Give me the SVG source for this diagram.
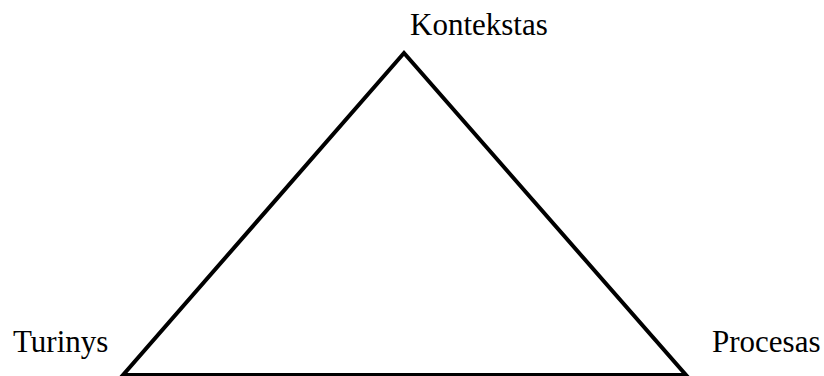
<svg xmlns="http://www.w3.org/2000/svg" width="824" height="376" viewBox="0 0 824 376">
<style>
.lbl{font-family:"Liberation Serif","Times New Roman",serif;font-size:31px;fill:#000}
.edge{fill:none;stroke:#000;stroke-width:4;stroke-linejoin:miter}
</style>
<rect width="824" height="376" fill="#fff"/>
<g id="connectors">
<polygon class="edge" points="404,53 123,375 686,375"/>
</g>
<g id="node-kontekstas"><text class="lbl" x="410" y="35">Kontekstas</text></g>
<g id="node-turinys"><text class="lbl" x="13" y="352">Turinys</text></g>
<g id="node-procesas"><text class="lbl" x="712" y="352">Procesas</text></g>
</svg>
